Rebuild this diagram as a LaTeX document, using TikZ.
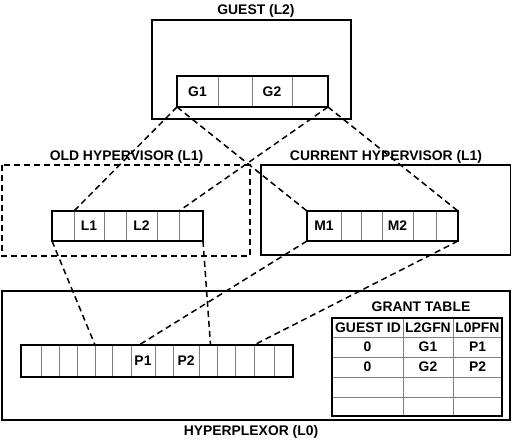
\documentclass[tikz,border=0pt]{standalone}
\usepackage{fontspec}
\setmainfont{Liberation Sans}
\begin{document}
\begin{tikzpicture}[x=1pt,y=-1pt,
  box/.style={draw=black,line width=1.5pt},
  oldbox/.style={draw=black,line width=1.5pt,dash pattern=on 6pt off 4pt},
  cellline/.style={draw=gray,line width=0.8pt},
  link/.style={draw=black,line width=1.5pt,dash pattern=on 6pt off 4pt},
  lbl/.style={font=\fontsize{13.9}{16}\selectfont\bfseries,inner sep=0pt}]
\useasboundingbox (0,0) rectangle (512,441);

%guest box
\draw[box] (152,20) rectangle (351,119);
\node[lbl] (guest) at (256,11) {GUEST (L2)};
\foreach \x in {218,252,292}
\draw[cellline] (\x,76) -- (\x,107);
\draw[box] (177,76) rectangle (328,107);
\node[lbl] (g1) at (197.5,91.5) {G1};
\node[lbl] (g2) at (272,91.5) {G2};
\coordinate (gleft) at (177,107);
\coordinate (gright) at (328,107);

%old hypervisor box
\draw[oldbox] (2,165) rectangle (250,256);
\node[lbl] (old) at (126.5,157) {OLD HYPERVISOR (L1)};
\foreach \x in {74,104,126,157,179}
\draw[cellline] (\x,211) -- (\x,241);
\draw[box] (52,211) rectangle (203,241);
\node[lbl] (l1) at (89,226) {L1};
\node[lbl] (l2) at (141.5,226) {L2};
\coordinate (ltopa) at (74,211);
\coordinate (ltopb) at (179,211);
\coordinate (lbotleft) at (52,241);
\coordinate (lbotright) at (203,241);

%current hypervisor box
\draw[box] (261,165) rectangle (510.5,255);
\node[lbl] (cur) at (386,157) {CURRENT HYPERVISOR (L1)};
\foreach \x in {341,361,382,413,436}
\draw[cellline] (\x,211) -- (\x,241);
\draw[box] (307,211) rectangle (458,241);
\node[lbl] (m1) at (324,226) {M1};
\node[lbl] (m2) at (397.5,226) {M2};
\coordinate (mtopleft) at (307,211);
\coordinate (mtopright) at (458,211);
\coordinate (mbotleft) at (307,241);
\coordinate (mbotright) at (458,241);

%hyperplexor box
\draw[box] (2,291) rectangle (510,420);
\node[lbl] (hyp) at (251,432) {HYPERPLEXOR (L0)};
\foreach \x in {41,59,77,95,112,131,155,173,199,217,235,254,274}
\draw[cellline] (\x,345) -- (\x,377);
\draw[box] (21,345) rectangle (293,377);
\node[lbl] (p1) at (143,361) {P1};
\node[lbl] (p2) at (186,361) {P2};
\coordinate (ptopa) at (95,345);
\coordinate (ptopb) at (139,345);
\coordinate (ptopc) at (210.5,345);
\coordinate (ptopd) at (254,345);

%grant table
\node[lbl] (grant) at (421,306.5) {GRANT TABLE};
\foreach \x in {403,453}
\draw[cellline] (\x,318) -- (\x,416);
\foreach \y in {337,357,377,397}
\draw[cellline] (332,\y) -- (502,\y);
\draw[box] (332,318) rectangle (502,416);
\node[lbl] (hid) at (368,327.5) {GUEST ID};
\node[lbl] (hgfn) at (428,327.5) {L2GFN};
\node[lbl] (hpfn) at (477.5,327.5) {L0PFN};
\node[lbl] (ida) at (367.5,347) {0};
\node[lbl] (gfna) at (428,347) {G1};
\node[lbl] (pfna) at (477.5,347) {P1};
\node[lbl] (idb) at (367.5,367) {0};
\node[lbl] (gfnb) at (428,367) {G2};
\node[lbl] (pfnb) at (477.5,367) {P2};

%dashed mappings
\draw[link] (gleft) -- (ltopa);
\draw[link] (gleft) -- (mtopleft);
\draw[link] (gright) -- (ltopb);
\draw[link] (gright) -- (mtopright);
\draw[link] (lbotleft) -- (ptopa);
\draw[link] (lbotright) -- (ptopc);
\draw[link] (mbotleft) -- (ptopb);
\draw[link] (mbotright) -- (ptopd);

\end{tikzpicture}
\end{document}
